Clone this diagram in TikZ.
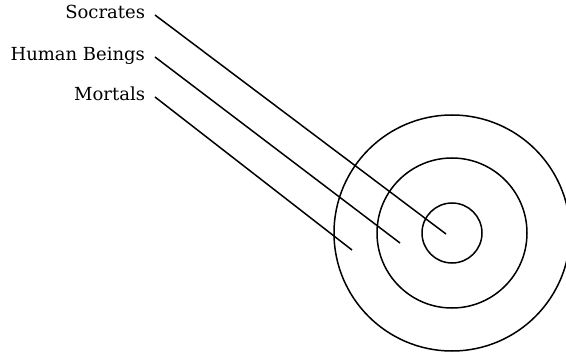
\documentclass[tikz,border=0pt]{standalone}
\usepackage{fontspec}
\setmainfont{DejaVu Serif}
\usetikzlibrary{positioning}

\begin{document}
\begin{tikzpicture}[x=1pt, y=-1pt, line width=1.5pt,
    term/.style={anchor=east, inner sep=0pt, outer xsep=10pt, text height=7pt, text depth=0pt, font=\fontsize{18}{20}\selectfont}]
  \useasboundingbox (0,0) rectangle (566,353);
  % target rings
  \coordinate (centre) at (452,233);
  \draw (centre) circle[radius=30];
  \draw (centre) circle[radius=75];
  \draw (centre) circle[radius=118];
  % terms
  \node[term] (socrates) at (155,15) {Socrates};
  \node[term] (human) at (155,57) {Human Beings};
  \node[term] (mortals) at (155,97) {Mortals};
  \coordinate (socEnd) at (446,234);
  \coordinate (humanEnd) at (400,243);
  \coordinate (mortalsEnd) at (352,250);
  \draw (socrates.east) -- (socEnd);
  \draw (human.east) -- (humanEnd);
  \draw (mortals.east) -- (mortalsEnd);
\end{tikzpicture}
\end{document}
